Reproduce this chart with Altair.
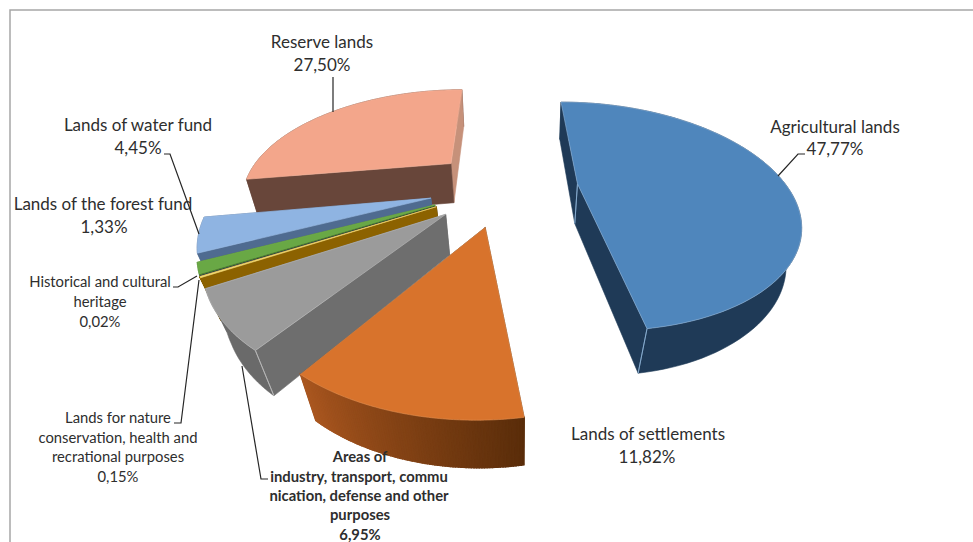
import numpy as np
import pandas as pd
import altair as alt

# Land categories, clockwise from the first slice
names = ["Agricultural lands", "Lands of settlements", "Areas of industry", "Lands for nature conservation",
         "Historical and cultural heritage", "Lands of the forest fund", "Lands of water fund", "Reserve lands"]
shares = [47.77, 11.82, 6.95, 0.15, 0.02, 1.33, 4.45, 27.50]
top_colors = ["#4f86bc", "#d8732c", "#9b9b9b", "#f2d873", "#2a3f66", "#69a845", "#8fb4e2", "#f3a68b"]
radial_colors = ["#1f3a57", "#5c2f0c", "#6e6e6e", "#8c6200", "#1a2233", "#4a7a2e", "#4f6b90", "#68463a"]
back_wall_colors = ["#1f3a57", "#5c2f0c", "#6e6e6e", "#8c6200", "#1a2233", "#4a7a2e", "#4f6b90", "#c6917a"]
arc_from = ["#1f3a57", "#5a2d0a", "#6a6a6a", "#8c6200", "#1a2233", "#4a7a2e", "#4f6b90", "#68463a"]
arc_to = ["#1f3a57", "#a9561f", "#6a6a6a", "#8c6200", "#1a2233", "#4a7a2e", "#4f6b90", "#68463a"]
edge_colors = ["#8fb4d8", "#e39052", "#bdbdbd", "#f2d873", "#2a3f66", "#74b050", "#9dbde6", "#f5b39b"]

# Camera for the tilted, exploded pie: plane-to-page perspective map
CX, CY, A, B, C, D, G, H = 503.99, 186.56, 199.39, 62.64, 31.77, 101.70, -0.0862, 0.2738
START_DEG, EXPLODE = -17.5, 0.355

WIDTH, HEIGHT = 973, 542


def project(u, v):
    w = 1 + G * u + H * v
    return CX + (A * u + B * v) / w, CY + (C * u - D * v) / w


def drop(pt):
    # Lower rim of the pie's thickness beneath a point on the top face
    x, y = pt
    lean = 0.03 + 0.04 * min(max((y - 100) / 200, 0), 1)
    return x + lean * (520 - x), y + 37 + 0.033 * (y - 100)


def hex_mix(c0, c1, t):
    a0 = [int(c0[i:i + 2], 16) for i in (1, 3, 5)]
    a1 = [int(c1[i:i + 2], 16) for i in (1, 3, 5)]
    return "#" + "".join(f"{round(p + (q - p) * t):02x}" for p, q in zip(a0, a1))


def polygon(points, fill, edge=None, sw=0.6):
    ring = [[float(x), float(y)] for x, y in points]
    ring.append(ring[0])
    return {"type": "Feature", "geometry": {"type": "Polygon", "coordinates": [ring]},
            "properties": {"fill": fill, "edge": edge or fill, "sw": sw}}


def faces_viewer(apex, corner, inner):
    # A radial wall shows when its lower rim falls on the far side of the edge from the slice's interior
    ex, ey = corner[0] - apex[0], corner[1] - apex[1]
    below = drop(corner)
    side_drop = ex * (below[1] - corner[1]) - ey * (below[0] - corner[0])
    side_in = ex * (inner[1] - apex[1]) - ey * (inner[0] - apex[0])
    return side_drop * side_in < 0


bounds = np.radians(START_DEG + np.cumsum([0] + shares) * 3.6)
features = []
# Back slices first so nearer ones paint over them
for i in [7, 6, 5, 4, 3, 2, 1, 0]:
    t0, t1 = bounds[i], bounds[i + 1]
    mid = (t0 + t1) / 2
    ou, ov = EXPLODE * np.sin(mid), EXPLODE * np.cos(mid)
    apex = project(ou, ov)
    arc = [project(ou + np.sin(t), ov + np.cos(t)) for t in np.linspace(t0, t1, 90)]
    inner = arc[len(arc) // 2]
    walls = [(arc[-1], back_wall_colors[i]), (arc[0], radial_colors[i])]
    front = []
    for corner, colour in walls:
        quad = polygon([apex, corner, drop(corner), drop(apex)], colour)
        if faces_viewer(apex, corner, inner):
            front.append(quad)
        else:
            features.append(quad)
    if arc_from[i] == arc_to[i]:
        features.append(polygon(arc + [drop(p) for p in reversed(arc)], arc_from[i]))
    else:
        # Shaded rim: overlapping strips stepping through the colour ramp
        for k in range(0, len(arc) - 1):
            shade = hex_mix(arc_from[i], arc_to[i], k / (len(arc) - 2))
            features.append(polygon([arc[k], arc[k + 1], drop(arc[k + 1]), drop(arc[k])], shade, shade, 1.4))
    features.extend(front)
    # Pale creases where two walls meet
    corners = [arc[-1], apex] if i == 0 else [arc[0]] if i == 2 else []
    for corner in corners:
        features.append(polygon([corner, drop(corner), corner], edge_colors[i], edge_colors[i], 0.7))
    features.append(polygon([apex] + arc, top_colors[i], edge_colors[i], 0.6))

slices = alt.Chart(alt.Data(values=features)).mark_geoshape().encode(
    fill=alt.Fill("properties.fill:N", scale=None),
    stroke=alt.Stroke("properties.edge:N", scale=None),
    strokeWidth=alt.StrokeWidth("properties.sw:Q", scale=None),
).project(type="identity", scale=1, translate=[0, 0])

x_scale = alt.Scale(domain=[0, WIDTH], range=[0, WIDTH])
y_scale = alt.Scale(domain=[0, HEIGHT], range=[0, HEIGHT])
X = alt.X("x:Q", scale=x_scale, axis=None)
Y = alt.Y("y:Q", scale=y_scale, axis=None)

# Frame along the top and left
frame_x = [10, 10, 973]
frame_y = [542, 10, 10]
frame = alt.Chart(pd.DataFrame({"x": frame_x, "y": frame_y, "o": range(3)})).mark_line(
    color="#a6a6a6", strokeWidth=1.5).encode(x=X, y=Y, order="o:O")

# Leader lines from labels to slices
leaders = {
    "Reserve lands": [(333, 77), (333, 112)],
    "Lands of water fund": [(164, 154), (170, 154), (199, 234)],
    "Historical and cultural heritage": [(173, 287), (178, 287), (197, 276)],
    "Lands for nature conservation": [(174, 423), (181, 423), (199, 280)],
    "Areas of industry": [(268, 479), (261, 479), (242, 366)],
    "Agricultural lands": [(805, 154), (798, 154), (778, 176)],
}
leader_rows = [{"name": n, "o": k, "x": p[0], "y": p[1]} for n, pts in leaders.items() for k, p in enumerate(pts)]
leader_lines = alt.Chart(pd.DataFrame(leader_rows)).mark_line(color="#262626", strokeWidth=1.2).encode(
    x=X, y=Y, order="o:O", detail="name:N")

# Label lines: text, centre x, middle y
large_labels = [
    ("Reserve lands", 322, 43), ("27,50%", 322, 66),
    ("Lands of water fund", 138, 126), ("4,45%", 138, 149),
    ("Lands of the forest fund", 103, 205), ("1,33%", 104, 228),
    ("Agricultural lands", 835, 128), ("47,77%", 835, 150),
    ("Lands of settlements", 648, 435), ("11,82%", 647, 458),
]
small_labels = [
    ("Historical and cultural", 100, 283), ("heritage", 100, 303), ("0,02%", 100, 323),
    ("Lands for nature", 118, 419), ("conservation, health and", 118, 439),
    ("recrational purposes", 118, 458), ("0,15%", 118, 478),
]
bold_labels = [
    ("Areas of", 360, 458), ("industry, transport, commu", 359, 478),
    ("nication, defense and other", 359, 497), ("purposes", 360, 516), ("6,95%", 360, 536),
]


def text_layer(rows, size, weight="normal"):
    df = pd.DataFrame(rows, columns=["text", "x", "y"])
    return alt.Chart(df).mark_text(font="Lato", fontSize=size, fontWeight=weight, color="#2e2e2e",
                                   align="center", baseline="middle").encode(x=X, y=Y, text="text:N")


chart = alt.layer(
    slices, frame, leader_lines,
    text_layer(large_labels, 17), text_layer(small_labels, 14.8), text_layer(bold_labels, 14.8, "bold"),
).properties(
    width=WIDTH, height=HEIGHT, padding=0, background="white",
    autosize=alt.AutoSizeParams(type="none"),
).configure_view(stroke=None)

chart.save("out.html", embed_options={"renderer": "svg", "actions": False})
